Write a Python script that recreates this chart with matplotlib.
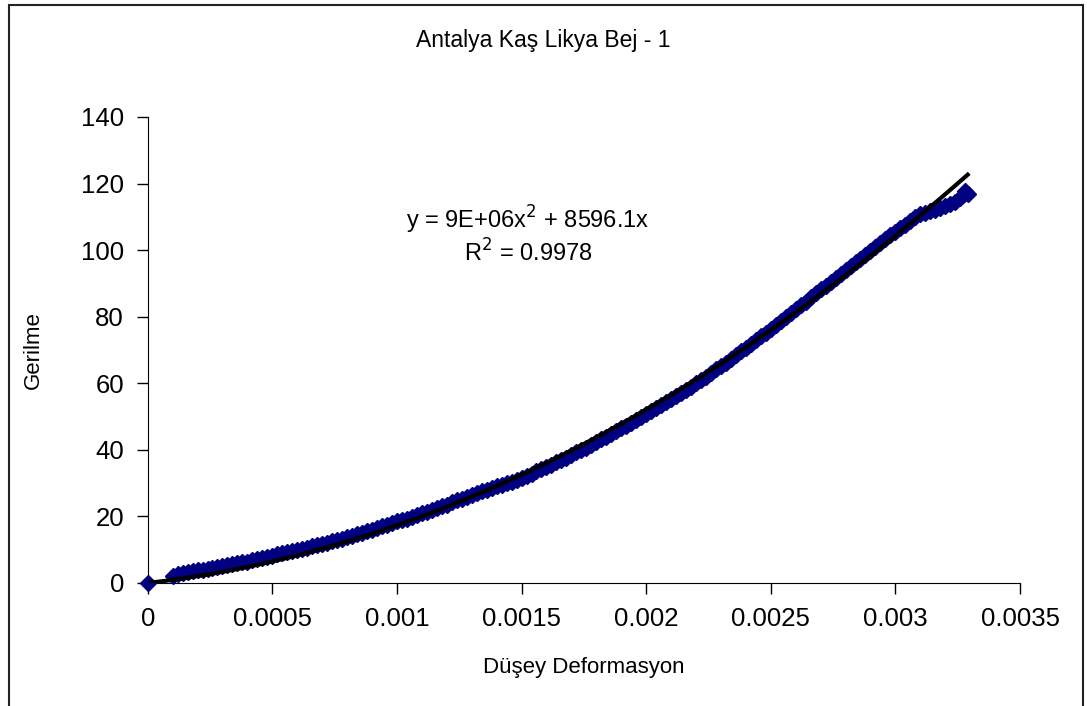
import numpy as np
import matplotlib.pyplot as plt
from matplotlib.patches import Rectangle

plt.rcParams['font.family'] = ['Liberation Sans', 'DejaVu Sans']

# strain / stress readings (Düşey Deformasyon, Gerilme)
strain = [0.0,
          0.00010, 0.00012, 0.00014, 0.00016, 0.00018, 0.00020, 0.00022, 0.00024,
          0.00026, 0.00028, 0.00030, 0.00032, 0.00034, 0.00036, 0.00038, 0.00040,
          0.00042, 0.00044, 0.00046, 0.00048, 0.00050, 0.00052, 0.00054, 0.00056,
          0.00058, 0.00060, 0.00062, 0.00064, 0.00066, 0.00068, 0.00070, 0.00072,
          0.00074, 0.00076, 0.00078, 0.00080, 0.00082, 0.00084, 0.00086, 0.00088,
          0.00090, 0.00092, 0.00094, 0.00096, 0.00098, 0.00100, 0.00102, 0.00104,
          0.00106, 0.00108, 0.00110, 0.00112, 0.00114, 0.00116, 0.00118, 0.00120,
          0.00122, 0.00124, 0.00126, 0.00128, 0.00130, 0.00132, 0.00134, 0.00136,
          0.00138, 0.00140, 0.00142, 0.00144, 0.00146, 0.00148, 0.00150, 0.00152,
          0.00154, 0.00156, 0.00158, 0.00160, 0.00162, 0.00164, 0.00166, 0.00168,
          0.00170, 0.00172, 0.00174, 0.00176, 0.00178, 0.00180, 0.00182, 0.00184,
          0.00186, 0.00188, 0.00190, 0.00192, 0.00194, 0.00196, 0.00198, 0.00200,
          0.00202, 0.00204, 0.00206, 0.00208, 0.00210, 0.00212, 0.00214, 0.00216,
          0.00218, 0.00220, 0.00222, 0.00224, 0.00226, 0.00228, 0.00230, 0.00232,
          0.00234, 0.00236, 0.00238, 0.00240, 0.00242, 0.00244, 0.00246, 0.00248,
          0.00250, 0.00252, 0.00254, 0.00256, 0.00258, 0.00260, 0.00262, 0.00264,
          0.00266, 0.00268, 0.00270, 0.00272, 0.00274, 0.00276, 0.00278, 0.00280,
          0.00282, 0.00284, 0.00286, 0.00288, 0.00290, 0.00292, 0.00294, 0.00296,
          0.00298, 0.00300, 0.00302, 0.00304, 0.00306, 0.00308, 0.00310, 0.00312,
          0.00314, 0.00316, 0.00318, 0.00320, 0.00322, 0.00324, 0.00326, 0.00327,
          0.00328, 0.00329]
stress = [0.0,
          2.2, 2.8, 3.1, 3.2, 3.5, 3.9, 4.0, 4.1,
          4.5, 4.9, 5.1, 5.3, 5.6, 6.0, 6.2, 6.4,
          6.8, 7.2, 7.5, 7.8, 8.2, 8.6, 8.9, 9.2,
          9.6, 10.0, 10.3, 10.6, 11.0, 11.4, 11.7, 12.0,
          12.5, 13.0, 13.3, 13.7, 14.2, 14.7, 15.1, 15.5,
          16.0, 16.6, 17.0, 17.4, 17.9, 18.5, 18.9, 19.3,
          19.9, 20.5, 20.9, 21.3, 22.0, 22.6, 23.1, 23.5,
          24.2, 24.8, 25.3, 25.7, 26.4, 27.0, 27.5, 27.9,
          28.6, 29.1, 29.5, 29.9, 30.4, 31.0, 31.5, 32.0,
          32.7, 33.5, 34.1, 34.7, 35.5, 36.3, 37.0, 37.6,
          38.5, 39.3, 40.0, 40.7, 41.6, 42.5, 43.2, 43.9,
          44.8, 45.7, 46.5, 47.3, 48.2, 49.1, 49.9, 50.7,
          51.7, 52.7, 53.5, 54.3, 55.3, 56.3, 57.1, 58.0,
          59.0, 60.1, 61.0, 61.9, 63.1, 64.2, 65.2, 66.2,
          67.4, 68.6, 69.6, 70.6, 71.8, 73.0, 74.1, 75.2,
          76.4, 77.6, 78.7, 79.8, 81.0, 82.3, 83.4, 84.5,
          85.8, 87.1, 88.2, 89.3, 90.5, 91.7, 92.8, 93.9,
          95.1, 96.3, 97.4, 98.5, 99.8, 101.0, 102.1, 103.2,
          104.4, 105.6, 106.7, 107.7, 108.9, 110.0, 110.8, 111.2,
          111.8, 112.0, 112.6, 113.2, 113.8, 114.5, 115.6, 116.6,
          117.8, 117.0]

# polynomial trendline (through origin)
TREND_A = 8.72e6
TREND_B = 8596.1
eq_text = "y = 9E+06x$^{2}$ + 8596.1x"
r2_text = "R$^{2}$ = 0.9978"

x_ticks = [0, 0.0005, 0.001, 0.0015, 0.002, 0.0025, 0.003, 0.0035]
x_tick_labels = ["0", "0.0005", "0.001", "0.0015", "0.002", "0.0025", "0.003", "0.0035"]
y_ticks = [0, 20, 40, 60, 80, 100, 120, 140]

W, H = 1087, 706
fig = plt.figure(figsize=(W / 100, H / 100), dpi=100)
fig.patches.append(Rectangle((9 / W, -0.05), 1074 / W, 1.05 - 5 / H,
                             transform=fig.transFigure, fill=False,
                             edgecolor='#222222', linewidth=1.5))
ax = fig.add_axes([147.7 / W, (H - 583) / H, 872.3 / W, 466 / H])

ax.plot(strain, stress, linestyle='none', marker='D', markersize=8,
        markerfacecolor='#000080', markeredgecolor='#000080', zorder=4, clip_on=False)

xs = np.linspace(0, max(strain), 300)
ax.plot(xs, TREND_A * xs ** 2 + TREND_B * xs, color='black', linewidth=3, zorder=5)

ax.set_xlim(0, 0.0035)
ax.set_ylim(0, 140)
ax.set_xticks(x_ticks)
ax.set_xticklabels(x_tick_labels)
ax.set_yticks(y_ticks)
ax.tick_params(direction='out', length=8, width=1, labelsize=18.5, pad=9)
for s in ['top', 'right']:
    ax.spines[s].set_visible(False)

fig.text(584 / W, 1 - 668 / H, "Düşey Deformasyon", ha='center', va='center', fontsize=16)
fig.text(33 / W, 1 - 350 / H, "Gerilme", ha='center', va='center', rotation=90, fontsize=16)
fig.text(543 / W, 1 - 40 / H, "Antalya Kaş Likya Bej - 1", ha='center', va='center', fontsize=16.5)
ax.text(0.436, 0.779, eq_text, transform=ax.transAxes, ha='center', va='center', fontsize=17)
ax.text(0.436, 0.708, r2_text, transform=ax.transAxes, ha='center', va='center', fontsize=17)

fig.savefig("out.png", dpi=100)
